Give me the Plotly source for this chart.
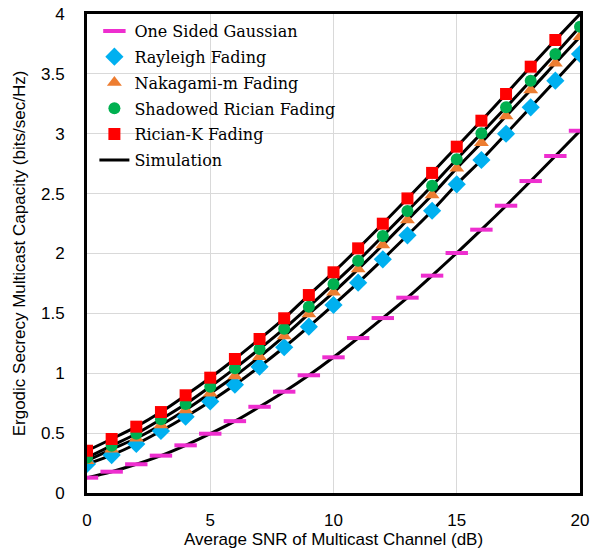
import plotly.graph_objects as go

snr = list(range(0, 21))

gaussian = [0.128, 0.178, 0.24, 0.312, 0.398, 0.495, 0.60, 0.72, 0.846, 0.983, 1.133,
            1.294, 1.461, 1.631, 1.815, 2.004, 2.199, 2.399, 2.605, 2.814, 3.025]
rayleigh = [0.242, 0.317, 0.409, 0.518, 0.637, 0.765, 0.904, 1.055, 1.217, 1.389, 1.57,
            1.756, 1.951, 2.152, 2.357, 2.578, 2.781, 3.0, 3.221, 3.443, 3.666]
nakagami = [0.27, 0.365, 0.457, 0.568, 0.693, 0.833, 0.977, 1.138, 1.311, 1.495, 1.676,
            1.87, 2.071, 2.28, 2.489, 2.712, 2.925, 3.148, 3.365, 3.588, 3.81]
shadowed = [0.295, 0.395, 0.495, 0.615, 0.743, 0.888, 1.041, 1.203, 1.372, 1.556, 1.746,
            1.94, 2.146, 2.355, 2.565, 2.787, 3.004, 3.221, 3.443, 3.666, 3.894]
rician = [0.353, 0.451, 0.554, 0.676, 0.816, 0.963, 1.119, 1.286, 1.459, 1.653, 1.843,
          2.043, 2.249, 2.46, 2.673, 2.892, 3.109, 3.332, 3.56, 3.783, 4.0]

series = [
    ("One Sided Gaussian", gaussian, "line-ew", "#EE2ECF", 16),
    ("Rayleigh Fading", rayleigh, "diamond", "#00B0F0", 14),
    ("Nakagami-m Fading", nakagami, "triangle-up", "#ED7D31", 13),
    ("Shadowed Rician Fading", shadowed, "circle", "#00B050", 12),
    ("Rician-K Fading", rician, "square", "#FF0000", 12),
]

fig = go.Figure()

# Simulation curves (drawn first, below markers)
for i, (_, vals, _, _, _) in enumerate(series):
    fig.add_trace(go.Scatter(
        x=snr, y=vals, mode="lines", name="Simulation",
        line=dict(color="black", width=3, shape="spline"),
        legendgroup="sim", showlegend=(i == 0), legendrank=1000,
    ))

for rank, (name, vals, sym, col, sz) in enumerate(series):
    if sym == "line-ew":
        marker = dict(symbol=sym, size=sz, color=col, line=dict(color=col, width=4))
    else:
        marker = dict(symbol=sym, size=sz, color=col, line=dict(width=0))
    xs, ys = snr, vals
    if name == "Rician-K Fading":
        xs, ys = snr[:-1], vals[:-1]
    fig.add_trace(go.Scatter(
        x=xs, y=ys, mode="markers", name=name, marker=marker,
        legendrank=rank + 1, legendgroup=name,
    ))

axis_common = dict(
    showline=True, linecolor="black", linewidth=3, mirror=True,
    showgrid=True, gridcolor="#D9D9D9", gridwidth=1,
    zeroline=False, ticks="", automargin=False,
    tickfont=dict(family="Liberation Sans, Arial", size=17, color="#000000"),
)

fig.update_layout(
    width=591, height=555,
    margin=dict(l=87, r=11, t=14, b=62),
    paper_bgcolor="white", plot_bgcolor="white",
    font=dict(family="Liberation Sans, Arial", color="black"),
    xaxis=dict(range=[0, 20], dtick=5, ticklabelstandoff=10,
               title=dict(text="Average SNR of Multicast Channel (dB)",
                          font=dict(size=17), standoff=4),
               **axis_common),
    yaxis=dict(range=[0, 4], dtick=0.5, ticklabelstandoff=16,
               title=dict(text="Ergodic Secrecy Multicast Capacity (bits/sec/Hz)",
                          font=dict(size=17), standoff=12),
               **axis_common),
    legend=dict(
        x=0.015, y=1.0, xanchor="left", yanchor="top",
        bgcolor="rgba(0,0,0,0)", borderwidth=0,
        font=dict(family="DejaVu Serif", size=16, color="black"),
        tracegroupgap=2, itemwidth=30,
    ),
    shapes=[dict(type="rect", xref="paper", yref="paper",
                 x0=0.0, x1=0.613, y0=0.593, y1=1.0,
                 fillcolor="white", line=dict(width=0), layer="between")],
    showlegend=True,
)

fig.write_html("out.html", config={"displayModeBar": False},
               post_script="document.body.style.margin='0px';")
